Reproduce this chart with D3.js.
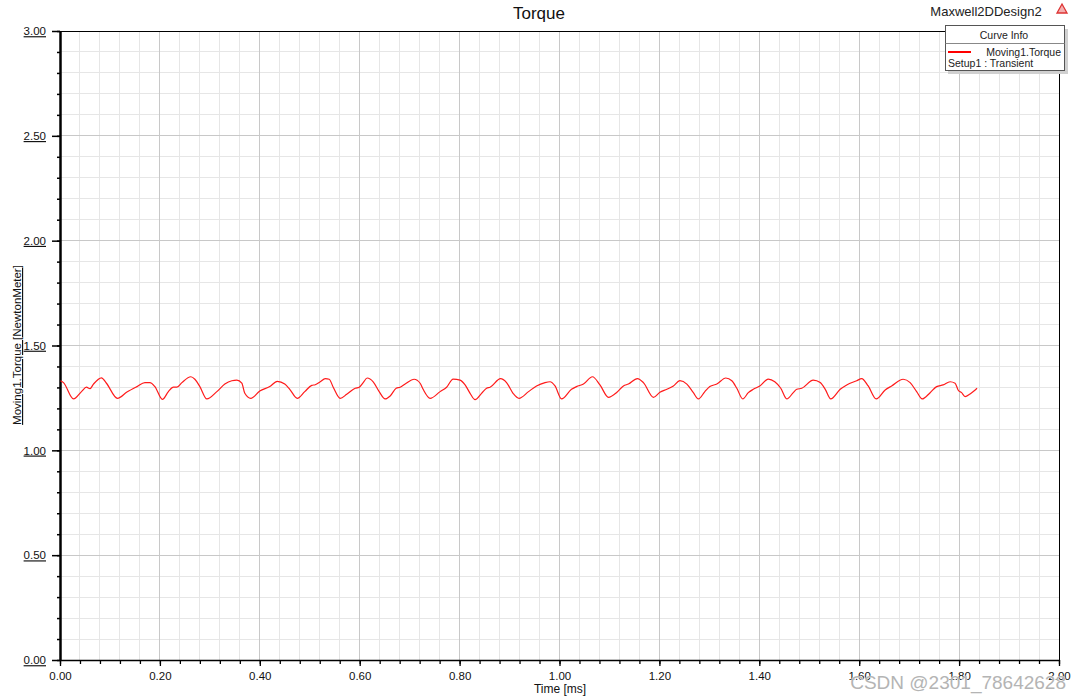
<!DOCTYPE html>
<html><head><meta charset="utf-8">
<script src="https://cdn.jsdelivr.net/npm/d3@7"></script>
<style>body{margin:0;background:#fff}svg{display:block}text{font-family:"Liberation Sans",Arial,sans-serif}</style>
</head><body><svg id="c" width="1080" height="700"></svg>
<script>
const timeMs = [0.001,0.007,0.027,0.043,0.053,0.060,0.067,0.083,0.093,0.115,0.134,0.154,0.170,0.180,0.190,0.205,0.217,0.227,0.234,0.244,0.262,0.270,0.280,0.294,0.314,0.330,0.344,0.354,0.364,0.370,0.382,0.400,0.420,0.435,0.450,0.460,0.475,0.490,0.504,0.511,0.521,0.531,0.539,0.547,0.561,0.574,0.591,0.599,0.607,0.615,0.627,0.639,0.651,0.661,0.673,0.681,0.691,0.709,0.721,0.727,0.741,0.761,0.774,0.787,0.801,0.811,0.821,0.831,0.844,0.854,0.861,0.882,0.894,0.907,0.919,0.938,0.954,0.971,0.981,0.991,1.004,1.024,1.034,1.048,1.066,1.081,1.098,1.115,1.128,1.138,1.156,1.168,1.188,1.201,1.215,1.228,1.241,1.255,1.268,1.278,1.291,1.301,1.315,1.333,1.345,1.355,1.367,1.378,1.388,1.401,1.418,1.431,1.443,1.455,1.468,1.475,1.485,1.508,1.522,1.532,1.543,1.562,1.575,1.595,1.605,1.618,1.634,1.652,1.665,1.688,1.702,1.715,1.726,1.742,1.755,1.768,1.782,1.792,1.798,1.805,1.812,1.822,1.836];
const torque = [1.332,1.323,1.245,1.280,1.301,1.294,1.316,1.346,1.320,1.248,1.278,1.304,1.323,1.323,1.304,1.243,1.280,1.301,1.301,1.323,1.351,1.339,1.304,1.245,1.280,1.316,1.332,1.335,1.320,1.272,1.248,1.283,1.304,1.329,1.316,1.291,1.248,1.280,1.310,1.313,1.327,1.342,1.339,1.301,1.248,1.267,1.296,1.301,1.323,1.345,1.327,1.280,1.245,1.259,1.296,1.301,1.316,1.339,1.320,1.291,1.248,1.280,1.301,1.340,1.335,1.312,1.272,1.242,1.272,1.296,1.301,1.342,1.323,1.272,1.248,1.280,1.307,1.323,1.327,1.307,1.245,1.291,1.304,1.316,1.351,1.312,1.253,1.277,1.307,1.316,1.342,1.323,1.253,1.277,1.291,1.307,1.332,1.316,1.275,1.245,1.280,1.304,1.316,1.345,1.332,1.296,1.245,1.275,1.291,1.307,1.340,1.327,1.296,1.245,1.275,1.291,1.296,1.335,1.323,1.291,1.245,1.291,1.312,1.332,1.342,1.307,1.245,1.288,1.307,1.339,1.323,1.280,1.245,1.275,1.304,1.312,1.327,1.320,1.288,1.275,1.256,1.269,1.296];
const xTickLabels = ["0.00","0.20","0.40","0.60","0.80","1.00","1.20","1.40","1.60","1.80","2.00"];
const yTickLabels = ["0.00","0.50","1.00","1.50","2.00","2.50","3.00"];
const xMajor = xTickLabels.map(Number);
const yMajor = yTickLabels.map(Number);
const xMinor = d3.range(0, 51).map(i => i * 0.04);
const yMinor = d3.range(0, 31).map(i => i * 0.1);

const svg = d3.select("#c");
const L = 60, R = 1059, T = 31, B = 660;
const x = d3.scaleLinear().domain([0, 2]).range([L, R]);
const y = d3.scaleLinear().domain([0, 3]).range([B, T]);

// minor grid
svg.append("g").selectAll("line").data(xMinor).join("line")
  .attr("x1", d => x(d)).attr("x2", d => x(d)).attr("y1", T).attr("y2", B)
  .attr("stroke", "#e6e6e6").attr("stroke-width", 1).attr("shape-rendering", "crispEdges");
svg.append("g").selectAll("line").data(yMinor).join("line")
  .attr("x1", L).attr("x2", R).attr("y1", d => y(d)).attr("y2", d => y(d))
  .attr("stroke", "#e6e6e6").attr("stroke-width", 1).attr("shape-rendering", "crispEdges");
// major grid
svg.append("g").selectAll("line").data(xMajor).join("line")
  .attr("x1", d => x(d)).attr("x2", d => x(d)).attr("y1", T).attr("y2", B)
  .attr("stroke", "#c8c8c8").attr("stroke-width", 1).attr("shape-rendering", "crispEdges");
svg.append("g").selectAll("line").data(yMajor).join("line")
  .attr("x1", L).attr("x2", R).attr("y1", d => y(d)).attr("y2", d => y(d))
  .attr("stroke", "#c8c8c8").attr("stroke-width", 1).attr("shape-rendering", "crispEdges");

// frame
svg.append("line").attr("x1", L).attr("x2", R).attr("y1", T).attr("y2", T).attr("stroke", "#000").attr("shape-rendering", "crispEdges");
svg.append("line").attr("x1", R).attr("x2", R).attr("y1", T).attr("y2", B).attr("stroke", "#000").attr("shape-rendering", "crispEdges");

// x axis
const xMinorAxis = d3.axisBottom(x).tickValues(xMinor).tickSize(4).tickFormat("");
svg.append("g").attr("transform", `translate(0,${B})`).call(xMinorAxis)
  .call(g => g.select(".domain").remove())
  .call(g => g.selectAll("line").attr("stroke", "#000").attr("stroke-width", 1.3));
const xAxis = d3.axisBottom(x).tickValues(xMajor).tickSize(6).tickSizeOuter(0)
  .tickFormat((d, i) => xTickLabels[i]);
svg.append("g").attr("transform", `translate(0,${B})`).call(xAxis)
  .call(g => g.select(".domain").attr("stroke", "#000").attr("stroke-width", 1.5))
  .call(g => g.selectAll("line").attr("stroke", "#000").attr("stroke-width", 1.3))
  .call(g => g.selectAll("text").attr("font-size", 11.5).attr("fill", "#111").attr("font-family", "Liberation Sans, Arial, sans-serif").attr("dy", "0.95em"));

// y axis
const yMinorAxis = d3.axisLeft(y).tickValues(yMinor).tickSize(3).tickFormat("");
svg.append("g").attr("transform", `translate(${L},0)`).call(yMinorAxis)
  .call(g => g.select(".domain").remove())
  .call(g => g.selectAll("line").attr("stroke", "#000").attr("stroke-width", 1.5));
const yAxis = d3.axisLeft(y).tickValues(yMajor).tickSize(8).tickSizeOuter(0)
  .tickFormat((d, i) => yTickLabels[i]);
svg.append("g").attr("transform", `translate(${L},0)`).call(yAxis)
  .call(g => g.select(".domain").attr("stroke", "#000").attr("stroke-width", 2.5))
  .call(g => g.selectAll("line").attr("stroke", "#000").attr("stroke-width", 1.5))
  .call(g => g.selectAll("text").attr("font-size", 11.5).attr("fill", "#111").attr("x", -14)
    .attr("text-decoration", "underline").attr("font-family", "Liberation Sans, Arial, sans-serif"));

// curve
const line = d3.line().x((d, i) => x(timeMs[i])).y(d => y(d)).curve(d3.curveMonotoneX);
svg.append("path").datum(torque).attr("d", line).attr("fill", "none")
  .attr("stroke", "#ff1a1a").attr("stroke-width", 1.2);

// titles
svg.append("text").attr("x", 539).attr("y", 19).attr("text-anchor", "middle").attr("font-size", 17).attr("fill", "#111").text("Torque");
svg.append("text").attr("x", 986).attr("y", 16).attr("text-anchor", "middle").attr("font-size", 13).attr("fill", "#222").text("Maxwell2DDesign2");
svg.append("path").attr("d", "M1062,4 L1067,13 L1057,13 Z").attr("fill", "#f3b0b0").attr("stroke", "#d33").attr("stroke-width", 1.3);
svg.append("text").attr("x", 560).attr("y", 693).attr("text-anchor", "middle").attr("font-size", 12).attr("fill", "#111").text("Time [ms]");
svg.append("text").attr("transform", "translate(21,345) rotate(-90)").attr("text-anchor", "middle").attr("font-size", 11.5)
  .attr("fill", "#111").attr("text-decoration", "underline").text("Moving1.Torque [NewtonMeter]");

// legend
const lg = svg.append("g");
lg.append("rect").attr("x", 948).attr("y", 29).attr("width", 120).attr("height", 45).attr("fill", "#d0d0d0");
lg.append("rect").attr("x", 945.5).attr("y", 25.5).attr("width", 119).attr("height", 45).attr("fill", "#fff").attr("stroke", "#555");
lg.append("line").attr("x1", 945.5).attr("x2", 1064.5).attr("y1", 43.5).attr("y2", 43.5).attr("stroke", "#888");
lg.append("text").attr("x", 1004).attr("y", 39).attr("text-anchor", "middle").attr("font-size", 10.5).attr("fill", "#222").text("Curve Info");
lg.append("line").attr("x1", 948).attr("x2", 971).attr("y1", 52).attr("y2", 52).attr("stroke", "#ff0000").attr("stroke-width", 2);
lg.append("text").attr("x", 1061).attr("y", 56).attr("text-anchor", "end").attr("font-size", 10.5).attr("fill", "#222").text("Moving1.Torque");
lg.append("text").attr("x", 948).attr("y", 67).attr("font-size", 10.5).attr("fill", "#222").text("Setup1 : Transient");

// watermark (overlaps the tick labels in the reference as well)
svg.append("text").attr("x", 1066).attr("y", 689).attr("text-anchor", "end").attr("font-size", 19)
  .attr("fill", "#b4b4b4").attr("stroke", "#fff").attr("stroke-width", 0.6).attr("paint-order", "stroke")
  .text("CSDN @2301_78642628");
</script></body></html>
